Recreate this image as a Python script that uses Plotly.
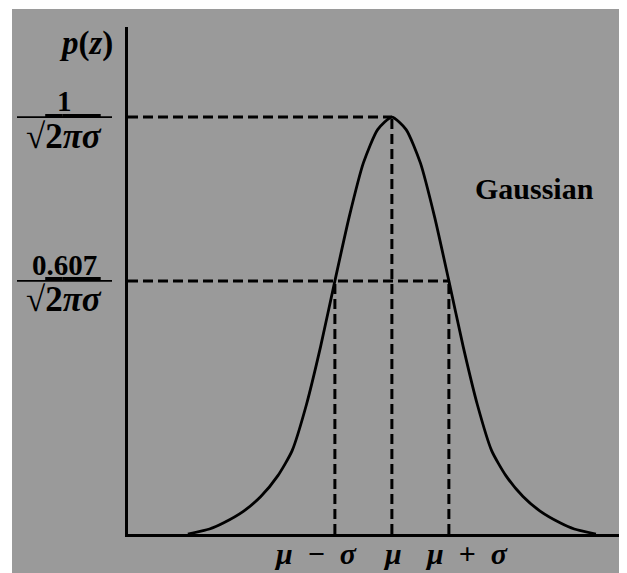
import plotly.graph_objects as go

# ---- data (z in units of sigma, mu = 0; p relative to peak) ----
curve_z = [-3.58, -3.2, -2.95, -2.6, -2.3, -2.0, -1.75, -1.5, -1.25, -1.0, -0.75, -0.5, -0.25, 0.0,
           0.25, 0.5, 0.75, 1.0, 1.25, 1.5, 1.75, 2.0, 2.3, 2.6, 2.95, 3.2, 3.58]
curve_p = [0.0, 0.012, 0.027, 0.055, 0.09, 0.14, 0.20, 0.31, 0.45, 0.607, 0.76, 0.89, 0.97, 1.0,
           0.97, 0.89, 0.76, 0.607, 0.45, 0.31, 0.20, 0.14, 0.09, 0.055, 0.027, 0.012, 0.0]

tick_z = [-1.0, 0.0, 1.0]
tick_labels = ["<i>μ</i>\u2002−\u2002<i>σ</i>", "<i>μ</i>", "<i>μ</i>\u2002+\u2002<i>σ</i>"]
tick_heights = [0.607, 1.0, 0.607]

level_values = [1.0, 0.607]
level_ends = [0.0, 1.0]
level_numerators = ["1", "0.607"]
level_denominator = "√<span style='text-decoration:overline'>2<i>πσ</i></span>"

series_label = "Gaussian"
y_title = "<i>p</i>(<i>z</i>)"

# ---- layout geometry (page pixels; the html body has an 8px margin) ----
BODY = 8
PAGE_W, PAGE_H = 627, 573
W, H = PAGE_W - BODY, PAGE_H - BODY
L, R, T, B = 128, 625, 27, 534          # plot area in page pixels
XMIN, XMAX = -4.63, 4.09
YMAX = 1.216
TICK_LABEL_X = [315, 392, 466]  # label centres in page pixels


def px(xp):
    return (xp - L) / (R - L)


def py(yp):
    return (B - yp) / (B - T)


GRAY = "#9a9a9a"
SERIF = "Liberation Serif"

fig = go.Figure()

fig.add_trace(go.Scatter(x=curve_z, y=curve_p, mode="lines",
                         line=dict(color="black", width=2.8, shape="spline", smoothing=0.6),
                         hoverinfo="skip", showlegend=False))

dash = "10px,5px"
for z, h in zip(tick_z, tick_heights):
    fig.add_trace(go.Scatter(x=[z, z], y=[0, h], mode="lines",
                             line=dict(color="black", width=3, dash=dash),
                             hoverinfo="skip", showlegend=False))
for v, e in zip(level_values, level_ends):
    fig.add_trace(go.Scatter(x=[XMIN, e], y=[v, v], mode="lines",
                             line=dict(color="black", width=3, dash=dash),
                             hoverinfo="skip", showlegend=False))

annotations = []
shapes = []

shapes.append(dict(type="rect", xref="paper", yref="paper", layer="below",
                   x0=px(12), x1=px(PAGE_W + 2), y0=py(PAGE_H + 2), y1=py(9),
                   fillcolor=GRAY, line=dict(width=0)))

for xp, t in zip(TICK_LABEL_X, tick_labels):
    annotations.append(dict(x=px(xp), xref="paper", y=py(553), yref="paper", text=f"<b>{t}</b>",
                            showarrow=False, font=dict(family=SERIF, size=30, color="black"),
                            xanchor="center", yanchor="middle"))

for v, num in zip(level_values, level_numerators):
    annotations.append(dict(x=px(64), xref="paper", y=v, yref="y", yshift=16, text=f"<b>{num}</b>",
                            showarrow=False, font=dict(family=SERIF, size=29, color="black"),
                            xanchor="center", yanchor="middle"))
    annotations.append(dict(x=px(64), xref="paper", y=v, yref="y", yshift=-19,
                            text=f"<b>{level_denominator}</b>", showarrow=False,
                            font=dict(family=SERIF, size=35, color="black"),
                            xanchor="center", yanchor="middle"))
    shapes.append(dict(type="line", xref="paper", yref="y", x0=px(17), x1=px(112), y0=v, y1=v,
                       line=dict(color="black", width=1.8)))

annotations.append(dict(x=px(86), xref="paper", y=py(43), yref="paper", text=f"<b>{y_title}</b>",
                        showarrow=False, font=dict(family=SERIF, size=33, color="black"),
                        xanchor="center", yanchor="middle"))
annotations.append(dict(x=px(534), xref="paper", y=py(189), yref="paper", text=f"<b>{series_label}</b>",
                        showarrow=False, font=dict(family=SERIF, size=30, color="black"),
                        xanchor="center", yanchor="middle"))

fig.update_layout(
    width=W, height=H,
    margin=dict(l=L - BODY, r=PAGE_W - R, t=T - BODY, b=PAGE_H - B),
    paper_bgcolor="white", plot_bgcolor=GRAY,
    xaxis=dict(range=[XMIN, XMAX], showgrid=False, zeroline=False, showticklabels=False,
               showline=True, linecolor="black", linewidth=3, ticks=""),
    yaxis=dict(range=[0, YMAX], showgrid=False, zeroline=False, showticklabels=False,
               showline=True, linecolor="black", linewidth=3, ticks=""),
    annotations=annotations, shapes=shapes,
)

fig.write_html("out.html")
